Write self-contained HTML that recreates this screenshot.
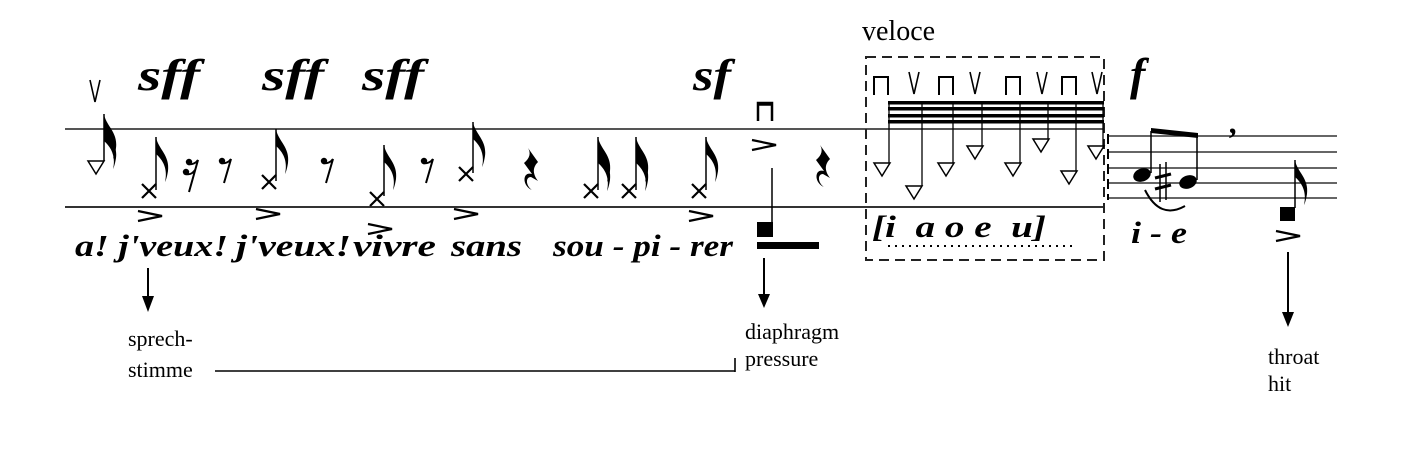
<!DOCTYPE html>
<html><head><meta charset="utf-8"><style>
html,body{margin:0;padding:0;background:#fff;}
svg{display:block;}
.dyn{font-family:"Liberation Serif",serif;font-weight:bold;font-style:italic;}
.lyr{font-family:"Liberation Serif",serif;font-weight:bold;font-style:italic;font-size:31px;}
.lab{font-family:"Liberation Serif",serif;font-size:22px;}
</style></head><body>
<svg width="1413" height="473" viewBox="0 0 1413 473" xmlns="http://www.w3.org/2000/svg">
<rect width="1413" height="473" fill="#fff"/>
<defs>
<path id="flag" d="M0 0 C2 12 14 18 12 34 C11 40 10 43 9 45 C12 32 7 23 0 17 Z" fill="#000"/>
<path id="xh" d="M-7 -7 L7 7 M-7 7 L7 -7" stroke="#000" stroke-width="2.2" fill="none"/>
<path id="tri" d="M-8 -6 L8 -6 L0 7 Z" fill="#fff" stroke="#000" stroke-width="1.5"/>
<path id="acc" d="M-12 -5 L12 0 L-12 5" stroke="#000" stroke-width="2.2" fill="none"/>
<path id="vb" d="M-5 0 L0 22 L5 0" stroke="#000" stroke-width="1.6" fill="none"/>
<path id="db" d="M-7 18 L-7 0 L7 0 L7 18" stroke="#000" stroke-width="2" fill="none"/>
<path id="db2" d="M-7 18 L-7 0 L7 0 L7 18 M-7 1.5 L7 1.5" stroke="#000" stroke-width="2.5" fill="none"/>
<g id="r8"><circle cx="-3" cy="0" r="3.2" fill="#000"/><path d="M-4 2 C0 3 4 1 6 -2 L-1 22" stroke="#000" stroke-width="2" fill="none"/></g>
<g id="r16"><circle cx="-3" cy="0" r="3.2" fill="#000"/><circle cx="-6" cy="10" r="3.2" fill="#000"/><path d="M-4 2 C0 3 4 1 6 -2 L-3 30 M-6 12 C-2 13 1 11 3 8" stroke="#000" stroke-width="2" fill="none"/></g>
<path id="qr" d="M0 0 L10 14 C5 19 4 25 10 33 L3 29 C-3 29 -2 38 4 42 C-6 38 -6 23 4 26 L-4 15 C2 10 3 5 0 0 Z" fill="#000"/>
</defs>

<line x1="65" y1="129" x2="1105" y2="129" stroke="#555" stroke-width="2"/>
<line x1="65" y1="207" x2="1105" y2="207" stroke="#333" stroke-width="2"/>
<g stroke="#333" stroke-width="1.6">
<line x1="1107" y1="136" x2="1337" y2="136"/>
<line x1="1107" y1="152" x2="1337" y2="152"/>
<line x1="1107" y1="168" x2="1337" y2="168"/>
<line x1="1107" y1="183" x2="1337" y2="183"/>
<line x1="1107" y1="198" x2="1337" y2="198"/>
</g>
<line x1="1108" y1="134" x2="1108" y2="200" stroke="#000" stroke-width="2" stroke-dasharray="10,5"/>

<use href="#vb" x="95" y="80"/>
<use href="#tri" x="96" y="167"/>
<line x1="104" y1="161" x2="104" y2="114" stroke="#000" stroke-width="1.5"/>
<use href="#flag" x="104" y="114"/>
<use href="#flag" x="104" y="124"/>

<text class="dyn" x="138" y="90" font-size="44" textLength="62" lengthAdjust="spacingAndGlyphs">sff</text>
<use href="#xh" x="149" y="191"/>
<line x1="156" y1="190" x2="156" y2="137" stroke="#000" stroke-width="1.5"/>
<use href="#flag" x="156" y="137"/>
<use href="#r16" x="192" y="162"/>
<use href="#r8" x="225" y="161"/>
<use href="#acc" x="150" y="216"/>

<text class="dyn" x="262" y="90" font-size="44" textLength="62" lengthAdjust="spacingAndGlyphs">sff</text>
<use href="#xh" x="269" y="182"/>
<line x1="276" y1="181" x2="276" y2="129" stroke="#000" stroke-width="1.5"/>
<use href="#flag" x="276" y="129"/>
<use href="#r8" x="327" y="161"/>
<use href="#acc" x="268" y="214"/>

<text class="dyn" x="362" y="90" font-size="44" textLength="62" lengthAdjust="spacingAndGlyphs">sff</text>
<use href="#xh" x="377" y="199"/>
<line x1="384" y1="196" x2="384" y2="145" stroke="#000" stroke-width="1.5"/>
<use href="#flag" x="384" y="145"/>
<use href="#r8" x="427" y="161"/>
<use href="#acc" x="380" y="229"/>

<use href="#xh" x="466" y="174"/>
<line x1="473" y1="173" x2="473" y2="122" stroke="#000" stroke-width="1.5"/>
<use href="#flag" x="473" y="122"/>
<use href="#qr" x="528" y="148"/>
<use href="#acc" x="466" y="214"/>

<use href="#xh" x="591" y="191"/>
<line x1="598" y1="190" x2="598" y2="137" stroke="#000" stroke-width="1.5"/>
<use href="#flag" x="598" y="137"/>
<use href="#flag" x="598" y="146"/>
<use href="#xh" x="629" y="191"/>
<line x1="636" y1="190" x2="636" y2="137" stroke="#000" stroke-width="1.5"/>
<use href="#flag" x="636" y="137"/>
<use href="#flag" x="636" y="146"/>

<text class="dyn" x="693" y="90" font-size="44" textLength="38" lengthAdjust="spacingAndGlyphs">sf</text>
<use href="#xh" x="699" y="191"/>
<line x1="706" y1="190" x2="706" y2="137" stroke="#000" stroke-width="1.5"/>
<use href="#flag" x="706" y="137"/>
<use href="#acc" x="701" y="216"/>

<text class="lyr" x="75" y="256" textLength="153" lengthAdjust="spacingAndGlyphs">a! j'veux!</text>
<text class="lyr" x="236" y="256" textLength="115" lengthAdjust="spacingAndGlyphs">j'veux!</text>
<text class="lyr" x="353" y="256" textLength="83" lengthAdjust="spacingAndGlyphs">vivre</text>
<text class="lyr" x="451" y="256" textLength="71" lengthAdjust="spacingAndGlyphs">sans</text>
<text class="lyr" x="553" y="256" textLength="180" lengthAdjust="spacingAndGlyphs">sou - pi - rer</text>

<use href="#db2" x="765" y="103"/>
<use href="#acc" x="764" y="145"/>
<line x1="772" y1="168" x2="772" y2="224" stroke="#000" stroke-width="1.5"/>
<rect x="757" y="222" width="16" height="15" fill="#000"/>
<rect x="757" y="242" width="62" height="7" fill="#000"/>
<use href="#qr" x="820" y="145"/>

<text x="862" y="40" font-family="Liberation Serif,serif" font-size="28">veloce</text>
<rect x="866" y="57" width="238" height="203" fill="none" stroke="#222" stroke-width="2" stroke-dasharray="10,6"/>
<g fill="#000">
<rect x="888" y="101" width="216" height="3.5"/>
<rect x="888" y="107" width="216" height="3.5"/>
<rect x="888" y="114" width="216" height="3.5"/>
<rect x="888" y="120" width="216" height="3.5"/>
</g>
<g stroke="#000" stroke-width="1.3">
<line x1="889" y1="102" x2="889" y2="163"/>
<line x1="922" y1="102" x2="922" y2="186"/>
<line x1="953" y1="102" x2="953" y2="163"/>
<line x1="982" y1="102" x2="982" y2="146"/>
<line x1="1020" y1="102" x2="1020" y2="163"/>
<line x1="1048" y1="102" x2="1048" y2="139"/>
<line x1="1076" y1="102" x2="1076" y2="171"/>
<line x1="1103" y1="102" x2="1103" y2="146"/>
</g>
<use href="#tri" x="882" y="169"/>
<use href="#tri" x="914" y="192"/>
<use href="#tri" x="946" y="169"/>
<use href="#tri" x="975" y="152"/>
<use href="#tri" x="1013" y="169"/>
<use href="#tri" x="1041" y="145"/>
<use href="#tri" x="1069" y="177"/>
<use href="#tri" x="1096" y="152"/>
<use href="#db" x="881" y="77"/>
<use href="#vb" x="914" y="72"/>
<use href="#db" x="946" y="77"/>
<use href="#vb" x="975" y="72"/>
<use href="#db" x="1013" y="77"/>
<use href="#vb" x="1042" y="72"/>
<use href="#db" x="1069" y="77"/>
<use href="#vb" x="1097" y="72"/>
<text class="lyr" x="872" y="237" textLength="174" lengthAdjust="spacingAndGlyphs">[i&#160;&#160;a o e&#160;&#160;u]</text>
<line x1="888" y1="246" x2="1074" y2="246" stroke="#000" stroke-width="2" stroke-dasharray="2,5"/>

<text class="dyn" x="1130" y="90" font-size="46">f</text>
<ellipse cx="1142" cy="175" rx="9" ry="6.5" transform="rotate(-20 1142 175)" fill="#000"/>
<ellipse cx="1188" cy="182" rx="9" ry="6.5" transform="rotate(-20 1188 182)" fill="#000"/>
<line x1="1151" y1="173" x2="1151" y2="131" stroke="#000" stroke-width="1.5"/>
<line x1="1197" y1="180" x2="1197" y2="135" stroke="#000" stroke-width="1.5"/>
<path d="M1151 128 L1198 133 L1198 138 L1151 133 Z" fill="#000"/>
<g stroke="#000">
<line x1="1160" y1="164" x2="1160" y2="202" stroke-width="1.5"/>
<line x1="1166" y1="162" x2="1166" y2="200" stroke-width="1.5"/>
<line x1="1155" y1="178" x2="1171" y2="174" stroke-width="3"/>
<line x1="1155" y1="189" x2="1171" y2="185" stroke-width="3"/>
</g>
<path d="M1145 190 Q1160 220 1185 206" stroke="#000" stroke-width="2" fill="none"/>
<text class="dyn" x="1230" y="133" font-size="32">,</text>
<text class="lyr" x="1131" y="243" textLength="56" lengthAdjust="spacingAndGlyphs">i - e</text>

<rect x="1280" y="207" width="15" height="14" fill="#000"/>
<line x1="1295" y1="208" x2="1295" y2="160" stroke="#000" stroke-width="1.5"/>
<use href="#flag" x="1295" y="160"/>
<use href="#acc" x="1288" y="236"/>

<g stroke="#000" stroke-width="2">
<line x1="148" y1="268" x2="148" y2="300"/>
<line x1="764" y1="258" x2="764" y2="298"/>
<line x1="1288" y1="252" x2="1288" y2="318"/>
<line x1="215" y1="371" x2="735" y2="371" stroke-width="1.6"/>
<line x1="735" y1="358" x2="735" y2="372" stroke-width="1.6"/>
</g>
<path d="M142 296 L154 296 L148 312 Z" fill="#000"/>
<path d="M758 294 L770 294 L764 308 Z" fill="#000"/>
<path d="M1282 312 L1294 312 L1288 327 Z" fill="#000"/>

<text class="lab" x="128" y="346">sprech-</text>
<text class="lab" x="128" y="377">stimme</text>
<text class="lab" x="745" y="339">diaphragm</text>
<text class="lab" x="745" y="366">pressure</text>
<text class="lab" x="1268" y="364">throat</text>
<text class="lab" x="1268" y="391">hit</text>
</svg>
</body></html>
